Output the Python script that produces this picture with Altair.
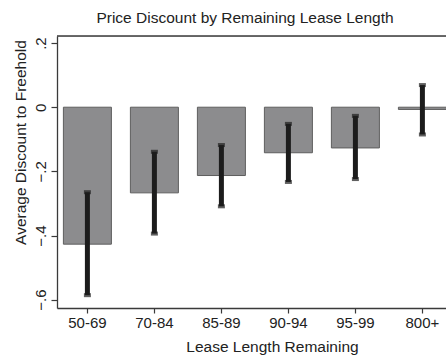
import altair as alt
import pandas as pd

categories = ["50-69", "70-84", "85-89", "90-94", "95-99", "800+"]
discount = [-0.427, -0.267, -0.213, -0.142, -0.127, -0.007]
ci_low = [-0.586, -0.394, -0.309, -0.233, -0.224, -0.085]
ci_high = [-0.265, -0.139, -0.118, -0.052, -0.027, 0.069]
y_ticks = [-0.6, -0.4, -0.2, 0, 0.2]

df = pd.DataFrame({"lease": categories, "discount": discount, "lo": ci_low, "hi": ci_high})

FONT = "Liberation Sans"
TXT = "#222222"
LINE = "#3a3a3a"

xscale = alt.Scale(domain=categories, range=[0, 395.8], paddingInner=0.2836, paddingOuter=0.0955)
yscale = alt.Scale(domain=[-0.626, 0.222], nice=False, zero=False)

xaxis = alt.Axis(
    title="Lease Length Remaining", labelAngle=0, labelFont=FONT, labelFontSize=15,
    labelColor=TXT, labelPadding=2, tickSize=5, tickColor=LINE, domainColor=LINE,
    domainWidth=1.3, tickWidth=1.2, titleFont=FONT, titleFontSize=15.5, titleFontWeight="normal",
    titleColor=TXT, titleX=215, titleY=43, titleBaseline="alphabetic", titleAlign="center",
    grid=False,
)
yaxis = alt.Axis(
    title="Average Discount to Freehold", values=y_ticks,
    labelExpr="datum.value == 0 ? '0' : replace(format(datum.value, '.1f'), '0.', '.')",
    labelAngle=270, labelAlign="center", labelBaseline="bottom", labelPadding=3,
    labelFont=FONT, labelFontSize=15, labelColor=TXT, tickSize=6, tickColor=LINE,
    tickWidth=1.2, domainColor=LINE, domainWidth=1.3, titleFont=FONT, titleFontSize=15.5,
    titleFontWeight="normal", titleColor=TXT, titleAngle=270, titleX=-32, titleY=106,
    titleBaseline="alphabetic", titleAlign="center", grid=False,
)

x_enc = alt.X("lease:N", scale=xscale, sort=categories, axis=xaxis)

bars = alt.Chart(df).mark_bar(color="#8c8c8e", stroke="#5e5e5e", strokeWidth=1).encode(
    x=x_enc,
    y=alt.Y("discount:Q", scale=yscale, axis=yaxis),
    y2=alt.datum(0),
)

rules = alt.Chart(df).mark_rule(color="#1c1c1c", strokeWidth=5).encode(
    x=x_enc,
    y=alt.Y("lo:Q", scale=yscale, axis=yaxis),
    y2="hi:Q",
)

cap_lo = alt.Chart(df).mark_tick(color="#1c1c1c", size=7, thickness=4, orient="horizontal").encode(
    x=x_enc, y=alt.Y("lo:Q", scale=yscale, axis=yaxis)
)
cap_hi = alt.Chart(df).mark_tick(color="#1c1c1c", size=7, thickness=4, orient="horizontal").encode(
    x=x_enc, y=alt.Y("hi:Q", scale=yscale, axis=yaxis)
)

frame_top = alt.Chart(pd.DataFrame({"k": [0]})).mark_rule(color=LINE, strokeWidth=1.3).encode(
    x=alt.value(0), x2=alt.value(389), y=alt.value(0)
)

chart = alt.layer(bars, rules, cap_lo, cap_hi, frame_top).properties(
    width=389,
    height=272,
    title=alt.Title(
        "Price Discount by Remaining Lease Length", anchor="start", frame="group", dx=39.4,
        dy=18, offset=15, font=FONT, fontSize=15.5, fontWeight="normal", color=TXT,
        baseline="alphabetic",
    ),
    autosize=alt.AutoSizeParams(type="none"),
    padding={"left": 57, "top": 36, "right": 0, "bottom": 50},
).configure_view(stroke=None).configure(background="white")

chart.save("out.html", embed_options={"renderer": "svg", "actions": False})
